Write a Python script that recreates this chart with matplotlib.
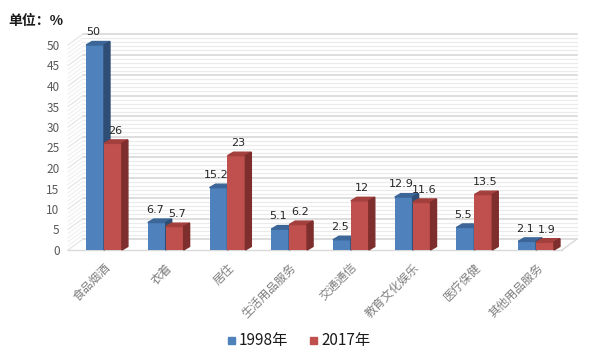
"""Consumer spending shares by category, 1998 vs 2017 (Excel-like 3D columns)"""
import numpy as np
from matplotlib import pyplot as plt
from matplotlib.patches import Polygon

categories = ["食品烟酒", "衣着", "居住", "生活用品服务", "交通通信", "教育文化娱乐", "医疗保健", "其他用品服务"]
share_1998 = [50, 6.7, 15.2, 5.1, 2.5, 12.9, 5.5, 2.1]
share_2017 = [26, 5.7, 23, 6.2, 12, 11.6, 13.5, 1.9]
series_names = ["1998年", "2017年"]
yticks = list(range(0, 55, 5))

colors = {
    "front": ["#4f81bd", "#c0504d"],
    "top": ["#3b6697", "#a33f3c"],
    "side": ["#2e4e75", "#7e2e2c"],
}

plt.rcParams["font.family"] = ["Noto Sans CJK SC", "DejaVu Sans"]

W, H = 600, 355
fig = plt.figure(figsize=(W / 100, H / 100), dpi=100)
left_px, right_px, top_px, bot_px = 68, 562, 45, 250
ax = fig.add_axes([left_px / W, 1 - bot_px / H, (right_px - left_px) / W, (bot_px - top_px) / H])

xl, xr = -0.583, 7.42
ax.set_xlim(xl, xr)
ax.set_ylim(0, 50)
ux = (xr - xl) / (right_px - left_px)  # data units per pixel
uy = 50 / (bot_px - top_px)

# wall depth and bar depth, in pixels
wdx, wdy = 15 * ux, 11 * uy
bdx, bdy = 6 * ux, 3.5 * uy

for s in ax.spines.values():
    s.set_visible(False)
ax.set_xticks([])
ax.set_yticks(yticks)
ax.tick_params(axis="y", length=0, pad=6, labelsize=8.5, labelcolor="#595959")

# back wall, side wall and floor
for v in np.arange(0, 51, 1):
    major = v % 5 == 0
    c = "#d4d4d4" if major else "#ebebeb"
    lw = 1.1 if major else 0.8
    ax.plot([xl + wdx, xr + wdx], [v + wdy, v + wdy], color=c, lw=lw, clip_on=False, zorder=0)
    ax.plot([xl, xl + wdx], [v, v + wdy], color="#e3e3e3" if major else "#f0f0f0",
            lw=0.8, clip_on=False, zorder=0)
ax.plot([xl, xr], [0, 0], color="#d9d9d9", lw=1, clip_on=False, zorder=0)
ax.plot([xr, xr + wdx], [0, wdy], color="#d9d9d9", lw=1, clip_on=False, zorder=0)

bw = 0.29
x = np.arange(len(categories))
for k, vals in enumerate([share_1998, share_2017]):
    xs = x + (k - 0.5) * bw
    ax.bar(xs, vals, width=bw, color=colors["front"][k], zorder=3 + k * 2, clip_on=False)
    for xc, v in zip(xs, vals):
        x0, x1 = xc - bw / 2, xc + bw / 2
        ax.add_patch(Polygon([(x0, v), (x1, v), (x1 + bdx, v + bdy), (x0 + bdx, v + bdy)],
                             closed=True, color=colors["top"][k], zorder=3 + k * 2, clip_on=False))
        ax.add_patch(Polygon([(x1, 0), (x1 + bdx, bdy), (x1 + bdx, v + bdy), (x1, v)],
                             closed=True, color=colors["side"][k], zorder=3 + k * 2, clip_on=False))
        ax.annotate(f"{v:g}", (xc, v + bdy), xytext=(-1.5 if k == 0 else 1.5, 3),
                    textcoords="offset points", ha="center", va="bottom", fontsize=8,
                    color="#262626", family="DejaVu Sans", zorder=10, annotation_clip=False)

for xc, name in zip(x, categories):
    ax.annotate(name, (xc, 0), xytext=(0, -8), textcoords="offset points",
                rotation=45, ha="right", va="top", rotation_mode="anchor",
                fontsize=8.5, color="#7f7f7f", annotation_clip=False)

fig.text(8 / W, 1 - 21 / H, "单位：%", fontsize=10, fontweight="bold", va="center", color="#1a1a1a")

# legend
for k, (lx, name) in enumerate(zip([231, 313], series_names)):
    fig.patches.append(plt.Rectangle(((lx - 3) / W, 1 - 344 / H), 7 / W, 7 / H,
                                     transform=fig.transFigure, color=colors["front"][k]))
    fig.text((lx + 8) / W, 1 - 340 / H, name, fontsize=11, va="center", color="#1a1a1a")

fig.savefig("out.png", dpi=100)
